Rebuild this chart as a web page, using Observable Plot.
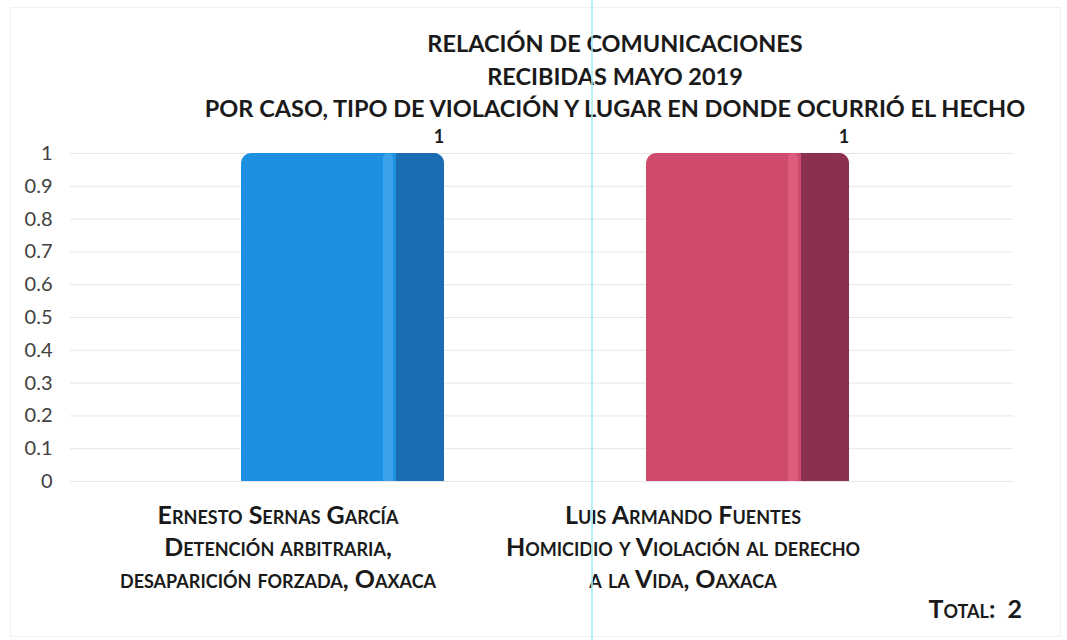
<!DOCTYPE html>
<html>
<head>
<meta charset="utf-8">
<script src="https://cdn.jsdelivr.net/npm/d3@7"></script>
<script src="https://cdn.jsdelivr.net/npm/@observablehq/plot@0.6"></script>
<style>
  html, body { margin: 0; padding: 0; background: #fff; }
  #wrap { position: relative; width: 1067px; height: 640px; overflow: hidden; font-family: Lato, "Open Sans", sans-serif; }
  #frame { position: absolute; left: 10px; top: 7px; right: 6px; bottom: 3px; border: 1px solid #f0f0f0; }
  #title { position: absolute; top: 27px; left: 615px; transform: translateX(-50%); text-align: center; white-space: nowrap;
           font-weight: 700; font-size: 23.5px; line-height: 32.5px; color: #1a1a1a; }
  #total { position: absolute; top: 593px; right: 45px; white-space: pre; font-weight: 700; font-size: 25px;
           font-variant: small-caps; color: #1a1a1a; }
  #scan { position: absolute; top: 0; bottom: 0; left: 591px; width: 2px; background: #a8eef0; opacity: 0.8; }
  #chart { position: absolute; left: 0; top: 0; }
</style>
</head>
<body>
<div id="wrap">
  <div id="frame"></div>
  <div id="chart"></div>
  <div id="title"></div>
  <div id="total"></div>
  <div id="scan"></div>
</div>
<script>
// ---- data ----
const titleLines = [
  "RELACIÓN DE COMUNICACIONES",
  "RECIBIDAS MAYO 2019",
  "POR CASO, TIPO DE VIOLACIÓN Y LUGAR EN DONDE OCURRIÓ EL HECHO"
];
const categories = [
  "Ernesto Sernas García\nDetención arbitraria,\ndesaparición forzada, Oaxaca",
  "Luis Armando Fuentes\nHomicidio y Violación al derecho\na la Vida, Oaxaca"
];
const values = [1, 1];
const yTicks = [0, 0.1, 0.2, 0.3, 0.4, 0.5, 0.6, 0.7, 0.8, 0.9, 1];
const totalLabel = "Total:";
const totalValue = 2;

// ---- colours ----
const faceColors = ["#1e90e2", "#cf4b6c"];
const highlightColors = ["#3aa3ec", "#dc5e7c"];
const sideColors = ["#1a6db3", "#8c3050"];

const data = categories.map((c, i) => ({category: c, value: values[i], i}));

document.getElementById("title").innerHTML = titleLines.join("<br>");
document.getElementById("total").textContent = totalLabel + "  " + totalValue;

const chart = Plot.plot({
  width: 1067,
  height: 640,
  marginTop: 153,
  marginBottom: 159,
  marginLeft: 70,
  marginRight: 54,
  style: {background: "transparent", fontFamily: "Lato, 'Open Sans', sans-serif"},
  x: {domain: categories, range: [139.5, 949.5], paddingInner: 0.5, paddingOuter: 0.25, axis: null},
  y: {domain: [0, 1], label: null, ticks: yTicks, tickFormat: d => String(d)},
  color: {type: "identity"},
  marks: [
    Plot.ruleY(yTicks, {stroke: "#e6e6e6", strokeWidth: 1}),
    Plot.axisY({ticks: yTicks, tickSize: 0, tickPadding: 18, tickFormat: d => String(d),
                fontSize: 20, fill: "#404040", label: null}),
    Plot.barY(data, {x: "category", y: "value", fill: d => faceColors[d.i], ry1: 10}),
    Plot.barY(data, {x: "category", y: "value", fill: d => highlightColors[d.i], insetLeft: 142, insetRight: 51, ry1: 10}),
    Plot.barY(data, {x: "category", y: "value", fill: d => sideColors[d.i], insetLeft: 155, rx2y1: 10}),
    Plot.text(data, {x: "category", y: "value", text: d => String(d.value), dx: 96, dy: -16,
                     fontSize: 18, fontWeight: 700, fill: "#1a1a1a"}),
    Plot.text(data, {x: "category", y: 0, text: "category", dx: -65, dy: 20, lineAnchor: "top", lineHeight: 1.28,
                     fontSize: 25, fontWeight: 700, fontVariant: "small-caps", fill: "#1a1a1a"})
  ]
});
document.getElementById("chart").appendChild(chart);
</script>
</body>
</html>
